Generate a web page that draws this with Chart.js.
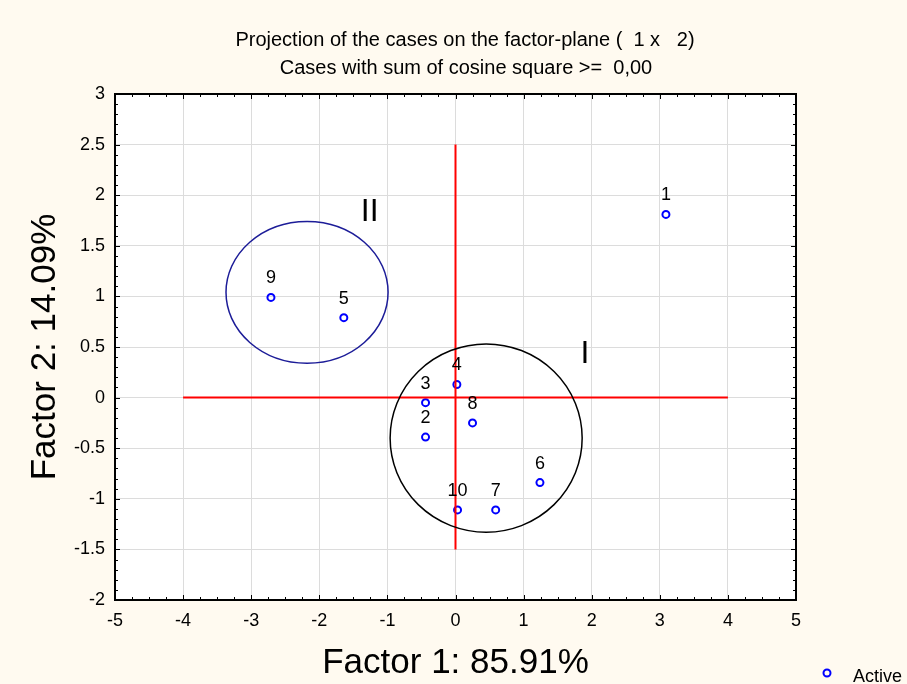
<!DOCTYPE html>
<html>
<head>
<meta charset="utf-8">
<script src="https://cdn.jsdelivr.net/npm/chart.js@4"></script>
<style>
  body { margin: 0; background: #fffaf0; }
  #wrap { width: 907px; height: 684px; }
</style>
</head>
<body>
<div id="wrap"><canvas id="factorChart"></canvas></div>
<script>
// case coordinates on the factor plane
const caseLabels = ['1', '2', '3', '4', '5', '6', '7', '8', '9', '10'];
const factor1 = [3.09, -0.44, -0.44, 0.02, -1.64, 1.24, 0.59, 0.25, -2.71, 0.03];
const factor2 = [1.81, -0.39, -0.05, 0.13, 0.79, -0.84, -1.11, -0.25, 0.99, -1.11];

// red cross lines (x range, y range)
const hLineX = [-4, 4];
const vLineY = [-1.5, 2.5];

// group ellipses: center x, center y, radius x, radius y
const groupNames = ['I', 'II'];
const groupCenterX = [0.45, -2.18];
const groupCenterY = [-0.40, 1.04];
const groupRadiusX = [1.41, 1.19];
const groupRadiusY = [0.93, 0.70];
const groupColors = ['#000000', '#1c1c98'];
const groupLabelX = [1.90, -1.26];
const groupLabelY = [0.43, 1.83];

const titleLines = [
  'Projection of the cases on the factor-plane (  1 x   2)',
  'Cases with sum of cosine square >=  0,00'
];

const FONT = "'Liberation Sans', Arial, sans-serif";

const points = factor1.map((x, i) => ({ x: x, y: factor2[i] }));

const decorPlugin = {
  id: 'decor',
  afterDatasetsDraw(chart) {
    const ctx = chart.ctx;
    const xs = chart.scales.x, ys = chart.scales.y;
    ctx.save();
    // group ellipses
    groupNames.forEach((name, i) => {
      const cx = xs.getPixelForValue(groupCenterX[i]);
      const cy = ys.getPixelForValue(groupCenterY[i]);
      const rx = Math.abs(xs.getPixelForValue(groupCenterX[i] + groupRadiusX[i]) - cx);
      const ry = Math.abs(ys.getPixelForValue(groupCenterY[i] + groupRadiusY[i]) - cy);
      ctx.beginPath();
      ctx.ellipse(cx, cy, rx, ry, 0, 0, Math.PI * 2);
      ctx.strokeStyle = groupColors[i];
      ctx.lineWidth = 1.5;
      ctx.stroke();
      ctx.fillStyle = '#000';
      ctx.font = '32px ' + FONT;
      ctx.textAlign = 'center';
      ctx.textBaseline = 'middle';
      ctx.fillText(name, xs.getPixelForValue(groupLabelX[i]), ys.getPixelForValue(groupLabelY[i]));
    });
    // case labels
    ctx.font = '18px ' + FONT;
    ctx.fillStyle = '#000';
    caseLabels.forEach((lab, i) => {
      ctx.fillText(lab, xs.getPixelForValue(factor1[i]), ys.getPixelForValue(factor2[i]) - 19);
    });
    ctx.restore();
  },
  afterDraw(chart) {
    const ctx = chart.ctx;
    const a = chart.chartArea;
    const xs = chart.scales.x, ys = chart.scales.y;
    ctx.save();
    // titles
    ctx.fillStyle = '#000';
    ctx.font = '20px ' + FONT;
    ctx.textAlign = 'center';
    ctx.textBaseline = 'middle';
    ctx.fillText(titleLines[0], 465, 40);
    ctx.fillText(titleLines[1], 466, 68);
    ctx.strokeStyle = '#000';
    ctx.lineWidth = 1;
    ctx.beginPath();
    // x ticks, top and bottom, pointing inward
    for (let v = -5; v <= 5.001; v += 0.25) {
      const px = Math.round(xs.getPixelForValue(v)) + 0.5;
      const len = Math.abs(v - Math.round(v)) < 1e-6 ? 5 : 3;
      ctx.moveTo(px, a.bottom); ctx.lineTo(px, a.bottom - len);
      ctx.moveTo(px, a.top); ctx.lineTo(px, a.top + len);
    }
    // y ticks, left and right
    for (let v = -2; v <= 3.001; v += 0.1) {
      const py = Math.round(ys.getPixelForValue(v)) + 0.5;
      const major = Math.abs(v * 2 - Math.round(v * 2)) < 1e-6;
      const len = major ? 5 : 3;
      ctx.moveTo(a.left, py); ctx.lineTo(a.left + len, py);
      ctx.moveTo(a.right, py); ctx.lineTo(a.right - len, py);
    }
    ctx.stroke();
    ctx.lineWidth = 2;
    ctx.strokeRect(a.left, a.top, a.right - a.left, a.bottom - a.top);
    // legend
    ctx.beginPath();
    ctx.arc(827, 673, 3.5, 0, Math.PI * 2);
    ctx.strokeStyle = '#0000ff';
    ctx.lineWidth = 2;
    ctx.stroke();
    ctx.fillStyle = '#000';
    ctx.font = '18px ' + FONT;
    ctx.textAlign = 'left';
    ctx.textBaseline = 'middle';
    ctx.fillText('Active', 853, 677);
    ctx.restore();
  }
};

const bgPlugin = {
  id: 'bg',
  beforeDraw(chart) {
    const ctx = chart.ctx, a = chart.chartArea;
    ctx.save();
    ctx.fillStyle = '#fffaf0';
    ctx.fillRect(0, 0, chart.width, chart.height);
    ctx.fillStyle = '#ffffff';
    ctx.fillRect(a.left, a.top, a.right - a.left, a.bottom - a.top);
    ctx.restore();
  }
};

new Chart(document.getElementById('factorChart'), {
  type: 'scatter',
  data: {
    datasets: [
      {
        label: 'h',
        data: hLineX.map(x => ({ x: x, y: 0 })),
        showLine: true,
        borderColor: '#ff0000',
        borderWidth: 2,
        pointRadius: 0
      },
      {
        label: 'v',
        data: vLineY.map(y => ({ x: 0, y: y })),
        showLine: true,
        borderColor: '#ff0000',
        borderWidth: 2,
        pointRadius: 0
      },
      {
        label: 'Active',
        data: points,
        pointStyle: 'circle',
        pointRadius: 3.5,
        pointBorderWidth: 2,
        borderColor: '#0000ff',
        backgroundColor: 'rgba(0,0,0,0)'
      }
    ]
  },
  options: {
    responsive: true,
    maintainAspectRatio: false,
    animation: false,
    layout: { padding: { left: 0, right: 111, top: 94, bottom: 0 } },
    plugins: {
      legend: { display: false },
      tooltip: { enabled: false },
      title: { display: false }
    },
    scales: {
      x: {
        type: 'linear',
        min: -5,
        max: 5,
        afterFit: (scale) => { scale.height = 84; },
        ticks: { stepSize: 1, color: '#000', padding: 10, font: { family: FONT, size: 18 } },
        grid: { color: '#dcdcdc', drawTicks: false },
        border: { display: false },
        title: {
          display: true,
          text: 'Factor 1: 85.91%',
          color: '#000',
          font: { family: FONT, size: 35 },
          padding: { top: 0, bottom: 0 }
        }
      },
      y: {
        type: 'linear',
        min: -2,
        max: 3,
        afterFit: (scale) => { scale.width = 115; },
        ticks: {
          stepSize: 0.5,
          color: '#000',
          padding: 10,
          font: { family: FONT, size: 18 },
          callback: (v) => String(v)
        },
        grid: { color: '#dcdcdc', drawTicks: false },
        border: { display: false },
        title: {
          display: true,
          text: 'Factor 2: 14.09%',
          color: '#000',
          font: { family: FONT, size: 35 },
          padding: { top: 24, bottom: 0 }
        }
      }
    }
  },
  plugins: [bgPlugin, decorPlugin]
});
</script>
</body>
</html>
